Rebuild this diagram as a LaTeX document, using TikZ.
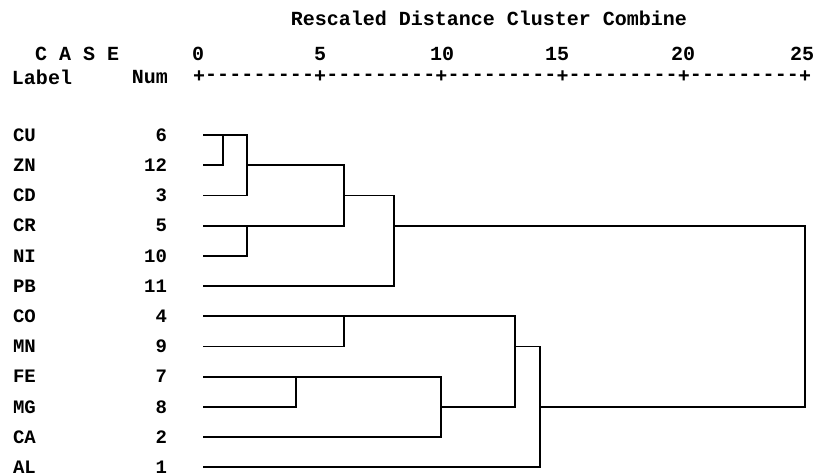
\documentclass[tikz,border=0pt]{standalone}
\usepackage{fontspec}
\setmonofont{Liberation Mono}
\begin{document}
\begin{tikzpicture}[x=1pt,y=-1pt,
  every node/.style={inner sep=0pt,outer sep=0pt},
  hdr/.style={font=\ttfamily\bfseries\fontsize{20}{20}\selectfont},
  rowtxt/.style={font=\ttfamily\bfseries\fontsize{19}{19}\selectfont},
  link/.style={line width=1.8pt,line cap=rect,line join=miter}]
\useasboundingbox (0,0) rectangle (813,476);
% title and header
\node[hdr] (title) at (489,18) {Rescaled Distance Cluster Combine};
\node[hdr,anchor=west] (case) at (35,54) {C A S E};
\node[hdr,anchor=west] (label) at (12,77) {Label};
\node[hdr,anchor=east] (num) at (168,77) {Num};
\node[hdr] (t0) at (198,54) {0};
\node[hdr] (t5) at (320,54) {5};
\node[hdr] (t10) at (442,54) {10};
\node[hdr] (t15) at (557,54) {15};
\node[hdr] (t20) at (683,54) {20};
\node[hdr] (t25) at (802,54) {25};
\foreach \i in {0,...,50}{
  \pgfmathtruncatemacro{\m}{mod(\i,10)}
  \ifnum\m=0
    \node[hdr] (ax\i) at (199+\i*12.12,77) {+};
  \else
    \node[hdr] (ax\i) at (199+\i*12.12,77) {-};
  \fi
}
% rows
\foreach \lab/\n [count=\k from 0] in {CU/6,ZN/12,CD/3,CR/5,NI/10,PB/11,CO/4,MN/9,FE/7,MG/8,CA/2,AL/1}{
  \node[rowtxt,anchor=west] (l\lab) at (13,135+\k*30.2) {\lab};
  \node[rowtxt,anchor=east] (n\lab) at (167,135+\k*30.2) {\n};
  \coordinate (\lab) at (204,135+\k*30.2);
}
% dendrogram
\draw[link] (CU) -- (CU -| 247,0) -- (CD -| 247,0) -- (CD);
\draw[link] (ZN) -- (ZN -| 223,0) -- (CU -| 223,0);
\draw[link] (ZN -| 247,0) -- (ZN -| 344,0) -- (CR -| 344,0) -- (CR);
\draw[link] (NI) -- (NI -| 247,0) -- (CR -| 247,0);
\draw[link] (CD -| 344,0) -- (CD -| 394,0) -- (PB -| 394,0) -- (PB);
\draw[link] (CR -| 394,0) -- (CR -| 805,0) -- (MG -| 805,0) -- (MG -| 540,0);
\draw[link] (CO) -- (CO -| 515,0) -- (MG -| 515,0) -- (MG -| 441,0);
\draw[link] (MN) -- (MN -| 344,0) -- (CO -| 344,0);
\draw[link] (FE) -- (FE -| 441,0) -- (CA -| 441,0) -- (CA);
\draw[link] (MG) -- (MG -| 296,0) -- (FE -| 296,0);
\draw[link] (MN -| 515,0) -- (MN -| 540,0) -- (AL -| 540,0) -- (AL);
\end{tikzpicture}
\end{document}
